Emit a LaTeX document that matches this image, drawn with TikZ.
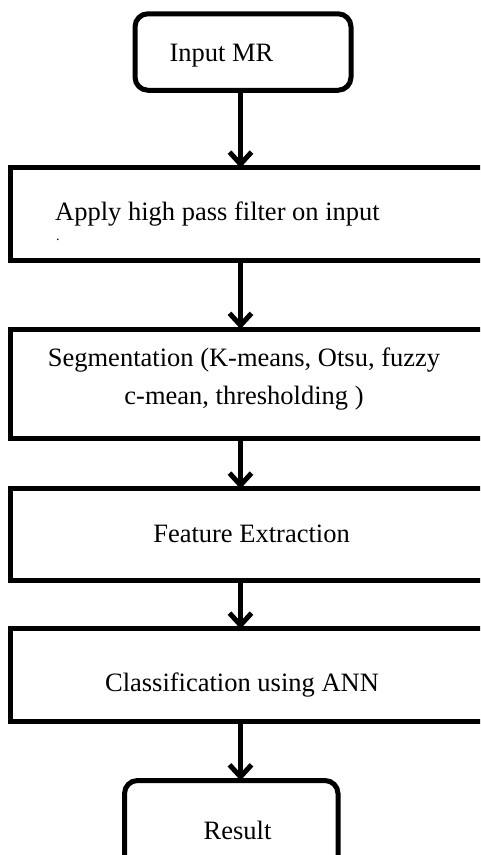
\documentclass[tikz,border=0pt]{standalone}
\usepackage{fontspec}
\setmainfont{Liberation Serif}
\usetikzlibrary{arrows.meta}

\tikzset{
  stage/.style={draw, line width=5pt, outer sep=0pt, inner sep=0pt},
  terminal/.style={stage, rounded corners=13pt},
  caption/.style={inner sep=0pt, font=\fontsize{26.5}{38}\selectfont},
  flow/.style={line width=5pt, -{Straight Barb[length=12pt, width=22pt, line width=5pt]}}
}

\begin{document}
\begin{tikzpicture}[x=1pt, y=-1pt]

\clip (0,0) rectangle (480,855);

% Draw boxes
\node[terminal, minimum width=216pt, minimum height=76.5pt] (input) at (243,52) {};
\node[stage, minimum width=480pt, minimum height=93pt] (filter) at (250,214.3) {};
\node[stage, minimum width=480pt, minimum height=109.5pt] (segment) at (250,383.75) {};
\node[stage, minimum width=480pt, minimum height=92pt] (feature) at (250,534.8) {};
\node[stage, minimum width=480pt, minimum height=92.2pt] (classify) at (250,674.9) {};
\node[terminal, minimum width=213.5pt, minimum height=100pt] (result) at (231.25,830.5) {};

% Draw texts
\node[caption, anchor=base] (inputtext) at (221.5,61) {Input MR};
\node[caption, anchor=base west] (filtertext) at (55,220) {Apply high pass filter on input};
\node[inner sep=0pt, anchor=base west, font=\fontsize{14}{14}\selectfont] (filterdot) at (56,240) {.};
\node[caption, anchor=base, align=center] (segmenttext) at (244,404) {Segmentation (K-means, Otsu, fuzzy\\c-mean, thresholding )};
\node[caption, anchor=base] (featuretext) at (251.5,542) {Feature Extraction};
\node[caption, anchor=base] (classifytext) at (242,691) {Classification using ANN};
\node[caption, anchor=base] (resulttext) at (237.5,839) {Result};

% Draw arrows
\coordinate (spine) at (240.5,0);
\draw[flow] (input.south -| spine) -- (filter.north -| spine);
\draw[flow] (filter.south -| spine) -- (segment.north -| spine);
\draw[flow] (segment.south -| spine) -- (feature.north -| spine);
\draw[flow] (feature.south -| spine) -- (classify.north -| spine);
\draw[flow] (classify.south -| spine) -- (result.north -| spine);

\end{tikzpicture}
\end{document}
